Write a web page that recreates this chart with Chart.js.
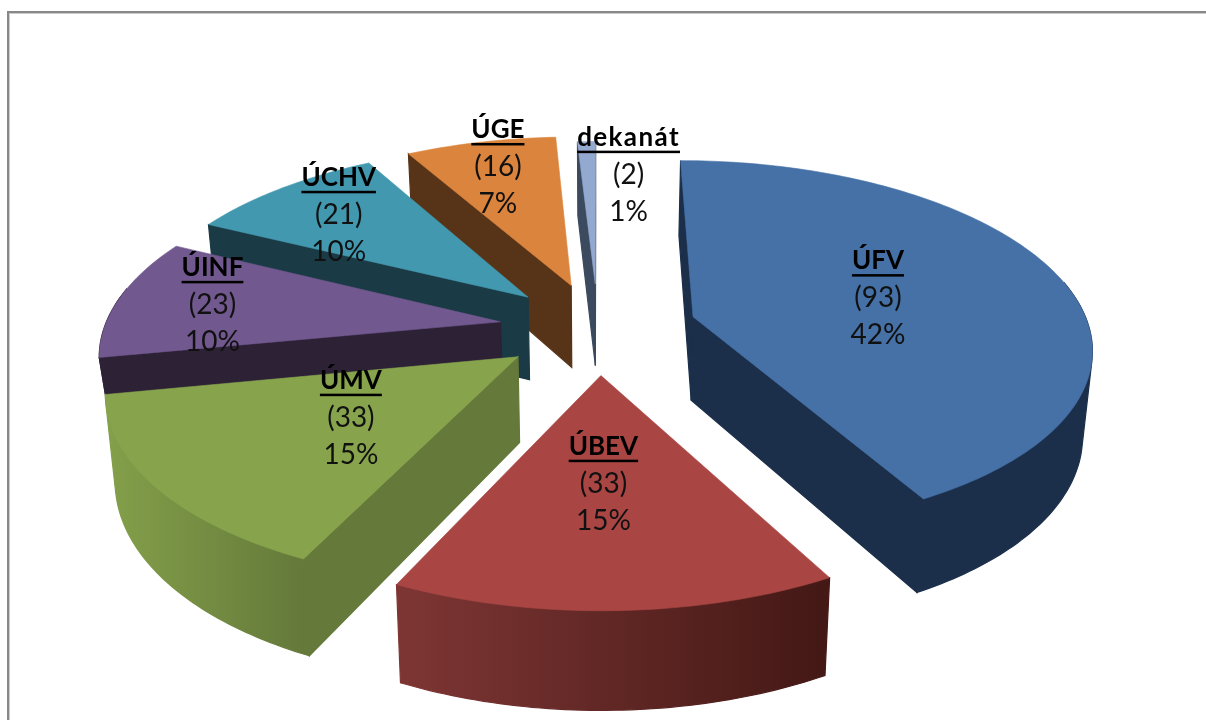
<!DOCTYPE html>
<html>
<head>
<meta charset="utf-8">
<style>
html,body{margin:0;padding:0;background:#fff;overflow:hidden}
#wrap{position:absolute;left:0;top:0;width:1206px;height:720px}
#frame{position:absolute;left:7px;top:11px;right:-5px;bottom:-5px;border-top:2px solid #888;border-left:2px solid #888;box-shadow:inset 1px 1px 0 #ccc}
canvas{position:absolute;left:0;top:0}
</style>
<script src="https://cdn.jsdelivr.net/npm/chart.js@4/dist/chart.umd.min.js"></script>
</head>
<body>
<div id="wrap"><div id="frame"></div><canvas id="c" width="1206" height="720"></canvas></div>
<script>
const categories = ["ÚFV","ÚBEV","ÚMV","ÚINF","ÚCHV","ÚGE","dekanát"];
const counts = [93,33,33,23,21,16,2];
const percents = ["42%","15%","15%","10%","10%","7%","1%"];
const topColors = ["#4571A7","#A94644","#87A44D","#71588F","#4198AF","#DB843D","#93A9CF"];
const wallLeft = ["#1B2F4A","#7E3634","#84A04A","#2D2136","#1A3A45","#573318","#3B4A5E"];
const wallRight = ["#1B2F4A","#431815","#64793A","#2D2136","#1A3A45","#573318","#3B4A5E"];
const sideColors = ["#1B2F4A","#431815","#64793A","#2D2136","#1A3A45","#573318","#3B4A5E"];
const radiusScale = [1,1,1,1,1,1,0.955];
const sideDepth = [1,1,1,0.7,1,1,1];
const labelReach = [0.5,0.49,0.5,0.75,0.74,0.8,0.71];
const labelShiftX = [0,-4,5,-1,-2,1,40];
const labelShiftY = [3,3,-1,1,0,-1,0];
const labelSpacing = [0,0,0,0,0,0,1.4];

const view = {eye:2600, tilt:0.4625, depthBase:82, depthGrow:0.055, depthRef:290, shrink:0.98};

function project(cx,cy,X,Y){
  const w = view.eye/(view.eye-Y);
  return {x:cx+X*w, y:cy+view.tilt*Y*w};
}
function drop(cx,cy,p,k){
  const h = (view.depthBase+view.depthGrow*(p.y-view.depthRef))*k;
  return {x:cx+(p.x-cx)*view.shrink, y:p.y+h};
}
function hull(points){
  const pts=points.slice().sort((a,b)=>a.x-b.x||a.y-b.y);
  const cross=(o,a,b)=>(a.x-o.x)*(b.y-o.y)-(a.y-o.y)*(b.x-o.x);
  const half=list=>{
    const h=[];
    list.forEach(p=>{
      while(h.length>1&&cross(h[h.length-2],h[h.length-1],p)<=0) h.pop();
      h.push(p);
    });
    h.pop();
    return h;
  };
  return half(pts).concat(half(pts.slice().reverse()));
}
function poly(ctx,pts){
  ctx.beginPath();
  pts.forEach((p,i)=> i?ctx.lineTo(p.x,p.y):ctx.moveTo(p.x,p.y));
  ctx.closePath();
}
function paint(ctx,pts,fill,line){
  poly(ctx,pts);ctx.fillStyle=fill;ctx.fill();
  ctx.strokeStyle=fill;ctx.lineWidth=line;ctx.stroke();
}

const pie3d = {
  id:'pie3d',
  beforeDatasetsDraw(chart){
    const ctx = chart.ctx, meta = chart.getDatasetMeta(0);
    const order = meta.data.map((el,i)=>({el,i})).sort((a,b)=>{
      const m=e=>Math.sin((e.el.startAngle+e.el.endAngle)/2);
      return m(a)-m(b);
    });
    ctx.save();
    order.forEach(({el,i})=>{
      const {x:cx,y:cy,startAngle:a0,endAngle:a1} = el;
      const R=el.outerRadius*radiusScale[i], k=sideDepth[i];
      const mid=(a0+a1)/2, off=el.options.offset;
      const ox=Math.cos(mid)*off, oy=Math.sin(mid)*off;
      const at=(a,r)=>project(cx,cy,ox+Math.cos(a)*r,oy+Math.sin(a)*r);
      const apex=at(0,0);
      const faces=(a,nA)=>{
        const nx=Math.cos(nA),ny=Math.sin(nA);
        const px=ox+Math.cos(a)*R/2,py=oy+Math.sin(a)*R/2;
        return nx*(0-px)+ny*(view.eye-py)>0;
      };
      const edge=a=>{const q=at(a,R);paint(ctx,[apex,q,drop(cx,cy,q,k),drop(cx,cy,apex,k)],sideColors[i],1.2);};
      if(faces(a0,a0-Math.PI/2)) edge(a0);
      if(faces(a1,a1+Math.PI/2)) edge(a1);
      const steps=Math.max(4,Math.ceil((a1-a0)*180/Math.PI));
      const arc=[];
      for(let s=0;s<=steps;s++) arc.push(a0+(a1-a0)*s/steps);
      const front=arc.filter(a=>Math.sin(a)>-0.2).map(a=>at(a,R));
      if(front.length>1){
        const back=front.map(p=>drop(cx,cy,p,k));
        const xs=front.map(p=>p.x);
        const g=ctx.createLinearGradient(Math.min(...xs),0,Math.max(...xs),0);
        g.addColorStop(0,wallLeft[i]);g.addColorStop(1,wallRight[i]);
        paint(ctx,hull(front.concat(back)),g,1.2);
      }
      paint(ctx,[apex].concat(arc.map(a=>at(a,R))),topColors[i],0.6);
    });
    ctx.textAlign='center';ctx.textBaseline='middle';
    const gap=37;
    meta.data.forEach((el,i)=>{
      const mid=(el.startAngle+el.endAngle)/2, off=el.options.offset;
      const r=off+el.outerRadius*labelReach[i];
      const p=project(el.x,el.y,Math.cos(mid)*r,Math.sin(mid)*r);
      const x=p.x+labelShiftX[i], y=p.y+labelShiftY[i];
      ctx.font='bold 26px Lato';ctx.fillStyle='#000';
      ctx.letterSpacing=labelSpacing[i]+'px';
      ctx.fillText(categories[i],x,y-gap);
      const w=ctx.measureText(categories[i]).width;
      ctx.fillRect(x-w/2,y-gap+13,w,2.5);
      ctx.letterSpacing='0px';
      ctx.font='28px Lato';ctx.fillStyle='#111';
      ctx.fillText('('+counts[i]+')',x,y);
      ctx.fillText(percents[i],x,y+gap);
    });
    ctx.restore();
    return false;
  }
};

new Chart(document.getElementById('c'),{
  type:'pie',
  data:{labels:categories,datasets:[{data:counts,backgroundColor:topColors,borderWidth:0,offset:99}]},
  options:{
    responsive:false,animation:false,radius:396,rotation:0,
    layout:{padding:{right:10,bottom:64}},
    plugins:{legend:{display:false},title:{display:false},tooltip:{enabled:false}}
  },
  plugins:[pie3d]
});
</script>
</body>
</html>
